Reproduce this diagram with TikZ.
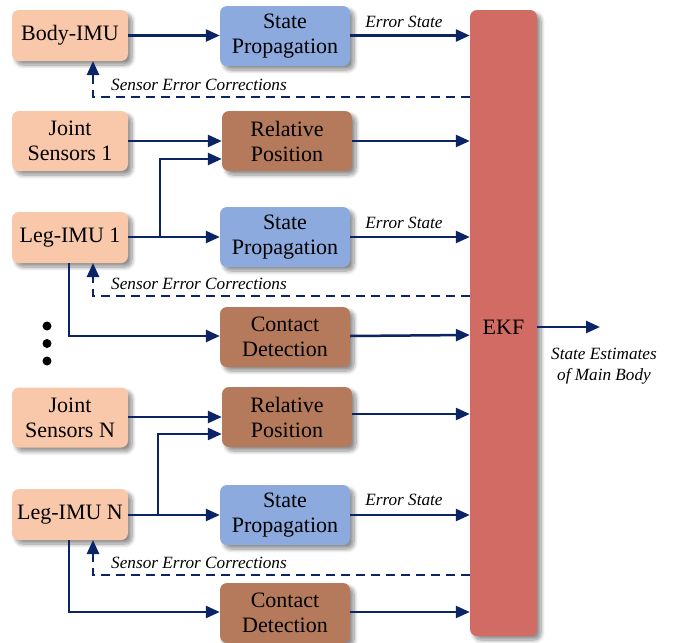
\documentclass[tikz,border=0pt]{standalone}
\usepackage{fontspec}
\setmainfont{Liberation Serif}
\usetikzlibrary{arrows.meta,shadows.blur,calc}
\definecolor{peach}{HTML}{F9C8AA}
\definecolor{bluebox}{HTML}{8DAADF}
\definecolor{brownbox}{HTML}{B57A5B}
\definecolor{redbox}{HTML}{D26B64}
\definecolor{navy}{HTML}{0B2466}
\tikzset{
  box/.style={rounded corners=7pt, align=center, inner sep=0pt,
    font=\fontsize{22}{25}\selectfont,
    blur shadow={shadow xshift=4pt, shadow yshift=-4pt, shadow blur steps=8, shadow blur radius=4pt, shadow opacity=45}},
  sensor/.style={box, fill=peach, minimum width=116pt, minimum height=51pt},
  tallsensor/.style={box, fill=peach, minimum width=116pt, minimum height=60pt},
  prop/.style={box, fill=bluebox, minimum width=130pt, minimum height=60pt},
  relpos/.style={box, fill=brownbox, minimum width=130pt, minimum height=60pt},
  arr/.style={draw=navy, line width=2.5pt, -{Triangle[length=14pt,width=12pt]}},
  dsh/.style={draw=navy, line width=2.5pt, dash pattern=on 9pt off 6pt, -{Triangle[length=14pt,width=12pt]}},
  lbl/.style={font=\itshape\fontsize{17.2}{21}\selectfont, inner sep=0pt},
  dotc/.style={fill=black, circle, inner sep=0pt, minimum size=9pt}
}
\begin{document}
\begin{tikzpicture}[x=1pt,y=-1pt]
\useasboundingbox (0,0) rectangle (673,643);
% nodes
\node[box, fill=redbox, minimum width=67pt, minimum height=626pt] (ekf) at (503.5,323) {};
\node[inner sep=0pt, font=\fontsize{22}{25}\selectfont] (ekft) at (503.5,327) {EKF};
\node[sensor] (bimu) at (70,35.5) {Body-IMU};
\node[prop] (sp1) at (285,36) {State\\Propagation};
\node[tallsensor] (js1) at (70,141) {Joint\\Sensors 1};
\node[relpos] (rp1) at (287,141) {Relative\\Position};
\node[sensor] (limu1) at (70,237.5) {Leg-IMU 1};
\node[prop] (sp2) at (285,237) {State\\Propagation};
\node[relpos] (cd1) at (285,337) {Contact\\Detection};
\node[tallsensor] (jsn) at (70,417.5) {Joint\\Sensors N};
\node[relpos] (rpn) at (287,417) {Relative\\Position};
\node[sensor] (limun) at (70,514.5) {Leg-IMU N};
\node[prop] (sp3) at (285,515) {State\\Propagation};
\node[relpos] (cdn) at (285,613) {Contact\\Detection};
\node[dotc] (d1) at (47,326) {};
\node[dotc] (d2) at (47,343.5) {};
\node[dotc] (d3) at (47,361) {};
% block 1
\draw[arr] (bimu.east |- 0,35.5) -- (sp1.west |- 0,35.5);
\draw[arr] (sp1.east |- 0,35.5) -- (ekf.west |- 0,35.5);
\node[lbl] (es1) at (404,22) {Error State};
\draw[dsh] (ekf.west |- 0,97) -| (93,61) coordinate (fb1);
\node[lbl] (sec1) at (199,85) {Sensor Error Corrections};
% block 2
\draw[arr] (js1.east) -- (rp1.west);
\draw[arr] (rp1.east) -- (ekf.west |- rp1.east);
\draw[arr] (limu1.east |- 0,237) -- (sp2.west |- 0,237);
\coordinate (br1) at (160,237);
\draw[arr] (br1) |- (rp1.west |- 0,159);
\draw[arr] (sp2.east |- 0,237) -- (ekf.west |- 0,237);
\node[lbl] (es2) at (404,223) {Error State};
\draw[dsh] (ekf.west |- 0,296) -| (93,263) coordinate (fb2);
\node[lbl] (sec2) at (199,284) {Sensor Error Corrections};
\draw[arr] (limu1.south west) ++(57,0) |- (cd1.west |- 0,336);
\draw[arr] (cd1.east |- 0,336) -- (ekf.west |- 0,335);
% output
\draw[arr] (ekf.east |- 0,327) -- (600,327) coordinate (out);
\node[lbl, align=center] (outl) at (604,366.5) {State Estimates\\of Main Body};
% block N
\draw[arr] (jsn.east |- 0,417) -- (rpn.west |- 0,417);
\draw[arr] (rpn.east |- 0,414) -- (ekf.west |- 0,414);
\draw[arr] (limun.east |- 0,515) -- (sp3.west |- 0,515);
\coordinate (brn) at (158,515);
\draw[arr] (brn) |- (rpn.west |- 0,434);
\draw[arr] (sp3.east |- 0,515) -- (ekf.west |- 0,515);
\node[lbl] (es3) at (404,500) {Error State};
\draw[dsh] (ekf.west |- 0,575) -| (93,540) coordinate (fbn);
\node[lbl] (secn) at (199,563) {Sensor Error Corrections};
\draw[arr] (limun.south west) ++(57,0) |- (cdn.west |- 0,612);
\draw[arr] (cdn.east |- 0,612) -- (ekf.west |- 0,612);
\end{tikzpicture}
\end{document}
